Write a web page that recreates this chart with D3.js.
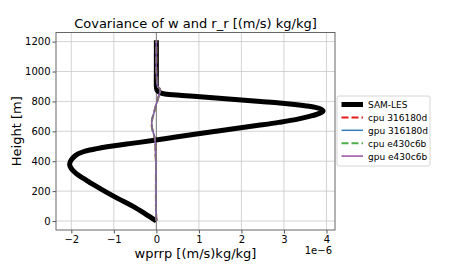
<!DOCTYPE html>
<html>
<head>
<meta charset="utf-8">
<script src="https://cdn.jsdelivr.net/npm/d3@7"></script>
<style>
  body { margin: 0; background: #fff; }
  svg { font-family: "DejaVu Sans", sans-serif; }
</style>
</head>
<body>
<svg id="chart" width="450" height="270"></svg>
<script>
// values in units of 1e-6 (m/s)kg/kg, heights in m
const samHeights = [0, 50, 100, 150, 200, 250, 274, 300, 319, 340, 360, 379, 400, 420, 441, 460, 475, 490, 504, 515, 526, 540, 560, 580, 600, 620, 640, 660, 680, 700, 720, 736, 750, 760, 770, 780, 790, 800, 810, 820, 830, 840, 850, 860, 870, 880, 900, 1000, 1100, 1210];
const samValues  = [0, -0.27, -0.56, -0.9, -1.22, -1.52, -1.65, -1.8, -1.89, -1.97, -2.02, -2.04, -2.02, -1.97, -1.89, -1.75, -1.57, -1.3, -0.99, -0.7, -0.4, -0.05, 0.42, 0.9, 1.4, 1.9, 2.4, 2.88, 3.3, 3.6, 3.83, 3.92, 3.86, 3.74, 3.53, 3.25, 2.9, 2.45, 2.0, 1.55, 1.1, 0.6, 0.2, 0.08, 0.03, 0.01, 0.0, 0.0, 0.0, 0.0];

const modelHeights = [0, 100, 200, 300, 400, 450, 500, 540, 580, 620, 650, 680, 720, 765, 800, 840, 870, 885, 900, 950, 1000, 1100, 1210];
const cpu316 = [0, -0.01, -0.01, -0.01, -0.01, -0.02, -0.02, -0.03, -0.06, -0.1, -0.11, -0.1, -0.06, -0.02, 0.02, 0.06, 0.09, 0.08, 0.03, 0.01, 0, 0, 0];
const gpu316 = [0, -0.01, -0.01, -0.01, -0.01, -0.02, -0.02, -0.03, -0.06, -0.1, -0.11, -0.1, -0.06, -0.02, 0.02, 0.06, 0.09, 0.08, 0.03, 0.01, 0, 0, 0];
const cpuE43 = [0, -0.01, -0.01, -0.01, -0.01, -0.02, -0.02, -0.03, -0.06, -0.1, -0.11, -0.1, -0.06, -0.02, 0.02, 0.06, 0.09, 0.08, 0.03, 0.01, 0, 0, 0];
const gpuE43 = [0, -0.01, -0.01, -0.01, -0.01, -0.02, -0.02, -0.03, -0.06, -0.1, -0.11, -0.1, -0.06, -0.02, 0.02, 0.06, 0.09, 0.08, 0.03, 0.01, 0, 0, 0];

const xTicks = [-2, -1, 0, 1, 2, 3, 4];
const yTicks = [0, 200, 400, 600, 800, 1000, 1200];

const series = [
  { name: 'SAM-LES', h: samHeights, v: samValues, color: '#000000', width: 5, dash: null },
  { name: 'cpu 316180d', h: modelHeights, v: cpu316, color: '#e41a1c', width: 2, dash: '7,3' },
  { name: 'gpu 316180d', h: modelHeights, v: gpu316, color: '#377eb8', width: 1.5, dash: null },
  { name: 'cpu e430c6b', h: modelHeights, v: cpuE43, color: '#4daf4a', width: 2, dash: '7,3' },
  { name: 'gpu e430c6b', h: modelHeights, v: gpuE43, color: '#984ea3', width: 1.5, dash: null }
];

const svg = d3.select('#chart');
const margin = { left: 56, right: 335, top: 32.5, bottom: 230 };

const x = d3.scaleLinear().domain([-2.36, 4.2]).range([margin.left, margin.right]);
const y = d3.scaleLinear().domain([-60, 1261]).range([margin.bottom, margin.top]);

const tickFmt = d => d < 0 ? '\u2212' + Math.abs(d) : String(d);

// grid
const grid = svg.append('g');
grid.selectAll('.gx').data(xTicks).enter().append('line')
  .attr('x1', d => x(d)).attr('x2', d => x(d))
  .attr('y1', margin.top).attr('y2', margin.bottom)
  .attr('stroke', '#c8c8c8').attr('stroke-width', 0.8);
grid.selectAll('.gy').data(yTicks).enter().append('line')
  .attr('x1', margin.left).attr('x2', margin.right)
  .attr('y1', d => y(d)).attr('y2', d => y(d))
  .attr('stroke', '#c8c8c8').attr('stroke-width', 0.8);

// zero line
svg.append('line')
  .attr('x1', x(0)).attr('x2', x(0))
  .attr('y1', margin.top).attr('y2', margin.bottom)
  .attr('stroke', '#808080').attr('stroke-width', 1);

svg.append('clipPath').attr('id', 'clip').append('rect')
  .attr('x', margin.left).attr('y', margin.top)
  .attr('width', margin.right - margin.left).attr('height', margin.bottom - margin.top);

const line = d3.line().curve(d3.curveCatmullRom.alpha(0.5))
  .x(d => x(d[1])).y(d => y(d[0]));

const plot = svg.append('g').attr('clip-path', 'url(#clip)');
series.forEach(s => {
  plot.append('path')
    .datum(s.h.map((h, i) => [h, s.v[i]]))
    .attr('d', line)
    .attr('fill', 'none')
    .attr('stroke', s.color)
    .attr('stroke-width', s.width)
    .attr('stroke-dasharray', s.dash)
    .attr('stroke-opacity', s.name === 'SAM-LES' ? 1 : 0.8);
});

// axes
const xAxis = svg.append('g').attr('transform', `translate(0,${margin.bottom})`)
  .call(d3.axisBottom(x).tickValues(xTicks).tickFormat(tickFmt).tickSizeOuter(0).tickSize(3.5).tickPadding(2));
const yAxis = svg.append('g').attr('transform', `translate(${margin.left},0)`)
  .call(d3.axisLeft(y).tickValues(yTicks).tickFormat(tickFmt).tickSizeOuter(0).tickSize(3.5).tickPadding(2));
[xAxis, yAxis].forEach(a => {
  a.select('.domain').remove();
  a.selectAll('text').attr('font-size', 10).attr('fill', '#000').attr('font-family', 'DejaVu Sans');
  a.selectAll('line').attr('stroke', '#555');
});

svg.append('rect')
  .attr('x', margin.left).attr('y', margin.top)
  .attr('width', margin.right - margin.left).attr('height', margin.bottom - margin.top)
  .attr('fill', 'none').attr('stroke', '#666').attr('stroke-width', 1);

// texts
svg.append('text').attr('x', (margin.left + margin.right) / 2).attr('y', 28)
  .attr('text-anchor', 'middle').attr('font-size', 13)
  .text('Covariance of w and r_r [(m/s) kg/kg]');
svg.append('text').attr('x', (margin.left + margin.right) / 2).attr('y', 258)
  .attr('text-anchor', 'middle').attr('font-size', 13)
  .text('wprrp [(m/s)kg/kg]');
svg.append('text').attr('transform', `translate(21,${(margin.top + margin.bottom) / 2}) rotate(-90)`)
  .attr('text-anchor', 'middle').attr('font-size', 13)
  .text('Height [m]');
svg.append('text').attr('x', 332).attr('y', 253.5)
  .attr('text-anchor', 'end').attr('font-size', 10)
  .text('1e\u22126');

// legend
const lg = svg.append('g').attr('transform', 'translate(337,96)');
lg.append('rect').attr('width', 93).attr('height', 70).attr('rx', 2)
  .attr('fill', '#fff').attr('stroke', '#ccc').attr('stroke-width', 0.8);
series.forEach((s, i) => {
  const yy = 8.5 + i * 12.9;
  lg.append('line').attr('x1', 4.5).attr('x2', 26).attr('y1', yy).attr('y2', yy)
    .attr('stroke', s.color).attr('stroke-width', s.width)
    .attr('stroke-dasharray', s.dash);
  lg.append('text').attr('x', 31).attr('y', yy + 3.5).attr('font-size', 9)
    .text(s.name);
});
</script>
</body>
</html>
